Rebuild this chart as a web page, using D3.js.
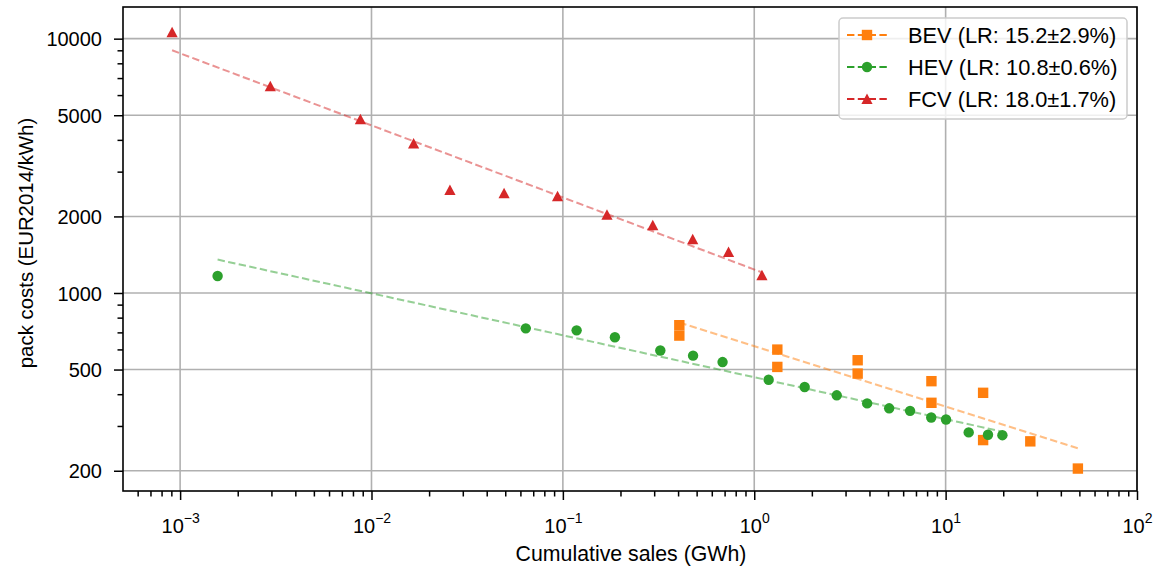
<!DOCTYPE html>
<html>
<head>
<meta charset="utf-8">
<script src="https://cdn.jsdelivr.net/npm/d3@7"></script>
<style>
  html, body { margin: 0; padding: 0; background: #ffffff; }
  svg { display: block; font-family: "Liberation Sans", Arial, Helvetica, sans-serif; }
</style>
</head>
<body>
<svg id="chart" width="1153" height="566"></svg>
<script>
// ---- data ----
const bevSales = [0.406, 0.406, 1.32, 1.32, 3.47, 3.47, 8.43, 8.43, 15.7, 15.7, 27.7, 49.1];
const bevCost  = [747, 680, 599, 512, 544, 482, 450, 370, 405, 264, 261, 204];

const hevSales = [1.57e-3, 0.064, 0.118, 0.187, 0.323, 0.479, 0.683, 1.189, 1.834, 2.698, 3.89, 5.07, 6.52, 8.41, 10.05, 13.2, 16.65, 19.8];
const hevCost  = [1166, 726, 713, 670, 594, 567, 535, 456, 427, 396, 368, 352, 344, 324, 318, 283, 277, 276];

const fcvSales = [9.08e-4, 2.96e-3, 8.75e-3, 0.0166, 0.0257, 0.0493, 0.0938, 0.170, 0.295, 0.477, 0.734, 1.097];
const fcvCost  = [10600, 6494, 4819, 3873, 2541, 2466, 2399, 2032, 1846, 1626, 1449, 1175];

// fitted learning-curve lines: [start, end] points
const bevFitSales = [0.406, 49.1];
const bevFitCost  = [765, 245];
const hevFitSales = [1.57e-3, 19.8];
const hevFitCost  = [1353, 285];
const fcvFitSales = [9.08e-4, 1.097];
const fcvFitCost  = [9000, 1205];

const seriesNames = ["BEV (LR: 15.2\u00b12.9%)", "HEV (LR: 10.8\u00b10.6%)", "FCV (LR: 18.0\u00b11.7%)"];
const seriesColors = ["#ff7f0e", "#2ca02c", "#d62728"];
const seriesMarkers = ["square", "circle", "triangle"];

const yMajorTicks = [200, 500, 1000, 2000, 5000, 10000];
const yMinorTicks = [300, 400, 600, 700, 800, 900, 3000, 4000, 6000, 7000, 8000, 9000];
const xMajorExponents = [-3, -2, -1, 0, 1, 2];

const xLabel = "Cumulative sales (GWh)";
const yLabel = "pack costs (EUR2014/kWh)";

// ---- layout ----
const W = 1153, H = 566;
const plot = { left: 123, right: 1137, top: 7, bottom: 491 };

const svg = d3.select("#chart");
const x = d3.scaleLog().domain([5.03e-4, 100]).range([plot.left, plot.right]);
const y = d3.scaleLog().domain([166.5, 13320]).range([plot.bottom, plot.top]);

const gridColor = "#b0b0b0";

// grid
const gGrid = svg.append("g");
const xMajorVals = xMajorExponents.map(e => Math.pow(10, e));
gGrid.selectAll("line.gx").data(xMajorVals).join("line")
  .attr("x1", d => x(d)).attr("x2", d => x(d))
  .attr("y1", plot.top).attr("y2", plot.bottom)
  .attr("stroke", gridColor).attr("stroke-width", 1.6);
gGrid.selectAll("line.gy").data(yMajorTicks).join("line")
  .attr("y1", d => y(d)).attr("y2", d => y(d))
  .attr("x1", plot.left).attr("x2", plot.right)
  .attr("stroke", gridColor).attr("stroke-width", 1.6);

// axes via d3 axis generators
const [xd0, xd1] = x.domain();
const xMinorVals = [];
for (let e = -4; e <= 2; e++) {
  for (let m = 2; m <= 9; m++) {
    const v = m * Math.pow(10, e);
    if (v > xd0 * 1.001 && v < xd1) xMinorVals.push(v);
  }
}

const xAxisMajor = d3.axisBottom(x).tickValues(xMajorVals).tickSize(9).tickFormat("");
const xAxisMinor = d3.axisBottom(x).tickValues(xMinorVals).tickSize(5.5).tickFormat("");
const yAxisMajor = d3.axisLeft(y).tickValues(yMajorTicks).tickSize(9).tickFormat(d3.format("d"));
const yAxisMinor = d3.axisLeft(y).tickValues(yMinorTicks).tickSize(5.5).tickFormat("");

function styleAxis(g) {
  g.select(".domain").remove();
  g.selectAll(".tick line").attr("stroke", "#000").attr("stroke-width", 1.5);
}

svg.append("g").attr("transform", `translate(0,${plot.bottom})`).call(xAxisMinor).call(styleAxis);
const gx = svg.append("g").attr("transform", `translate(0,${plot.bottom})`).call(xAxisMajor).call(styleAxis);
svg.append("g").attr("transform", `translate(${plot.left},0)`).call(yAxisMinor).call(styleAxis);
const gy = svg.append("g").attr("transform", `translate(${plot.left},0)`).call(yAxisMajor).call(styleAxis);

gy.selectAll(".tick text")
  .attr("x", -21).attr("dy", "0.36em")
  .attr("font-size", 20).attr("fill", "#000")
  .attr("font-family", "'Liberation Sans', Arial, sans-serif");

// x tick labels with superscripts
gx.selectAll(".tick").each(function(d) {
  const e = Math.round(Math.log10(d));
  const t = d3.select(this).append("text")
    .attr("y", 42).attr("text-anchor", "middle").attr("fill", "#000")
    .attr("font-family", "'Liberation Sans', Arial, sans-serif");
  t.append("tspan").attr("font-size", 20).text("10");
  t.append("tspan").attr("font-size", 14).attr("dy", -10).text(e < 0 ? "\u2212" + Math.abs(e) : String(e));
});

// frame
svg.append("rect")
  .attr("x", plot.left).attr("y", plot.top)
  .attr("width", plot.right - plot.left).attr("height", plot.bottom - plot.top)
  .attr("fill", "none").attr("stroke", "#000").attr("stroke-width", 1.6);

// clip
svg.append("clipPath").attr("id", "clip").append("rect")
  .attr("x", plot.left).attr("y", plot.top)
  .attr("width", plot.right - plot.left).attr("height", plot.bottom - plot.top);

const gData = svg.append("g").attr("clip-path", "url(#clip)");

const line = d3.line().x(d => x(d[0])).y(d => y(d[1]));

const series = [
  { sales: bevSales, cost: bevCost, fs: bevFitSales, fc: bevFitCost },
  { sales: hevSales, cost: hevCost, fs: hevFitSales, fc: hevFitCost },
  { sales: fcvSales, cost: fcvCost, fs: fcvFitSales, fc: fcvFitCost }
];

function drawMarker(sel, kind, color) {
  if (kind === "circle") {
    sel.append("circle").attr("r", 5.2).attr("fill", color);
  } else if (kind === "square") {
    sel.append("rect").attr("x", -5.2).attr("y", -5.2).attr("width", 10.4).attr("height", 10.4).attr("fill", color);
  } else {
    sel.append("path").attr("d", "M0,-5.5L5.6,5L-5.6,5Z").attr("fill", color);
  }
}

// fit lines first, then markers
series.forEach((s, i) => {
  const pts = s.fs.map((v, k) => [v, s.fc[k]]);
  gData.append("path").datum(pts).attr("d", line)
    .attr("fill", "none").attr("stroke", seriesColors[i]).attr("stroke-opacity", 0.5)
    .attr("stroke-width", 2).attr("stroke-dasharray", "7.4,3.4");
});
series.forEach((s, i) => {
  const pts = s.sales.map((v, k) => [v, s.cost[k]]);
  gData.selectAll(null).data(pts).join("g")
    .attr("transform", d => `translate(${x(d[0])},${y(d[1])})`)
    .each(function() { drawMarker(d3.select(this), seriesMarkers[i], seriesColors[i]); });
});

// axis labels
svg.append("text")
  .attr("x", (plot.left + plot.right) / 2 + 1).attr("y", 561)
  .attr("text-anchor", "middle").attr("font-size", 21.3).attr("fill", "#000")
  .text(xLabel);
svg.append("text")
  .attr("transform", `translate(33,${(plot.top + plot.bottom) / 2 - 6}) rotate(-90)`)
  .attr("text-anchor", "middle").attr("font-size", 20.4).attr("fill", "#000")
  .text(yLabel);

// legend
const lg = svg.append("g");
lg.append("rect")
  .attr("x", 839).attr("y", 18).attr("width", 288).attr("height", 101).attr("rx", 4)
  .attr("fill", "#fff").attr("fill-opacity", 0.8)
  .attr("stroke", "#cccccc").attr("stroke-width", 1.5);
seriesNames.forEach((name, i) => {
  const cy = 35 + i * 32;
  const row = lg.append("g").attr("transform", `translate(0,${cy})`);
  row.append("line").attr("x1", 847).attr("x2", 887).attr("y1", 0).attr("y2", 0)
    .attr("stroke", seriesColors[i]).attr("stroke-width", 2).attr("stroke-dasharray", "7.4,3.4");
  drawMarker(row.append("g").attr("transform", "translate(867,0)"), seriesMarkers[i], seriesColors[i]);
  row.append("text").attr("x", 908).attr("y", 0).attr("dy", "0.36em")
    .attr("font-size", 21.8).attr("fill", "#000").text(name);
});
</script>
</body>
</html>
